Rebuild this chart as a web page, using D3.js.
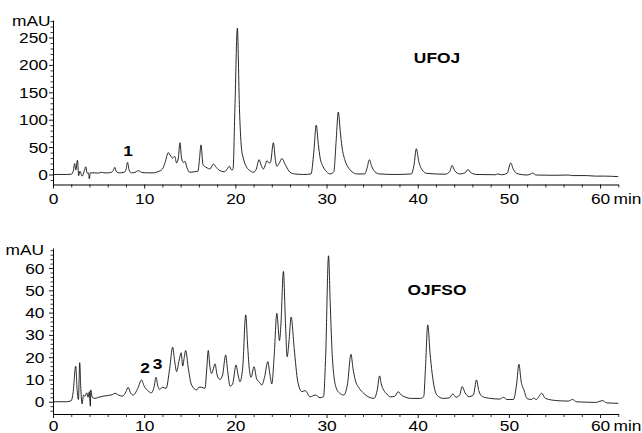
<!DOCTYPE html>
<html>
<head>
<meta charset="utf-8">
<script src="https://cdn.jsdelivr.net/npm/d3@7"></script>
<style>
  html, body { margin: 0; padding: 0; background: #fff; }
  svg { display: block; }
  text { font-family: "Liberation Sans", Arial, Helvetica, sans-serif; fill: #000; }
</style>
</head>
<body>
<svg id="chart" width="642" height="433"></svg>
<script>
// ---- Data ----
const ufojTime = [0,1.5,2.0,2.2,2.38,2.5,2.68,2.82,2.95,3.1,3.2,3.4,3.6,3.75,3.9,3.98,4.1,4.5,5.0,5.3,5.6,6.0,6.4,6.6,6.78,6.95,7.3,7.8,8.0,8.18,8.35,8.6,9.0,9.35,9.7,10.3,11.0,11.5,12.0,12.3,12.64,12.9,13.1,13.35,13.56,13.75,13.92,14.1,14.3,14.47,14.7,15.0,15.5,15.9,16.05,16.23,16.45,16.7,16.9,17.2,17.6,17.9,18.3,18.8,19.1,19.34,19.6,19.75,19.95,20.22,20.45,20.66,20.9,21.25,21.6,21.98,22.3,22.6,22.85,23.08,23.3,23.45,23.7,23.85,24.17,24.4,24.55,24.8,25.1,25.5,26.0,26.5,27.5,28.3,28.6,28.87,29.1,29.3,29.6,30.0,30.4,30.8,31.05,31.29,31.5,31.7,32.0,32.3,32.8,33.3,34.2,34.45,34.7,34.95,35.3,35.8,37.5,39.3,39.6,39.85,40.1,40.5,41.0,43.0,43.5,43.78,44.05,44.6,45.2,45.5,45.85,46.5,48.5,48.8,49.2,49.8,50.2,50.5,51.0,52.0,52.4,52.6,53.0,55.0,56.5,57.0,58.5,59.5,60.5,62.0];
const ufojValue = [0,0,0.5,5,20,8,26,-2,6,0,-3,5,14,2,3,-8,3,3,2.5,4,3,3,4,7,13,5,3,4,9,22,8,3,4,7,4,3,3,5,10,22,40,34,30,33,21,30,58,30,22,24,12,4,5,6,25,54,18,14,12,10,19,13,7,5,10,15,8,10,120,267,120,50,28,13,7,4,10,27,16,10,18,25,21,22,58,25,15,20,29,17,4,1,0,1,40,90,55,30,15,5,1,5,60,114,80,50,27,15,5,1,1,12,27,15,5,1,0,1,18,47,25,8,2,0.5,5,16.5,7,1,3,9,3,0,-0.5,1,-0.5,2,21,9,1,-1,1,2.5,-1,-1.5,-1,-2,-2,-3,-3,-4];

const ojfsoTime = [0,1.5,2.0,2.2,2.49,2.65,2.79,2.93,3.05,3.19,3.35,3.5,3.7,3.85,3.98,4.1,4.14,4.3,4.6,5.0,5.5,6.0,6.5,6.8,7.2,7.6,8.0,8.24,8.5,8.8,9.3,9.71,10.0,10.4,10.8,11.1,11.29,11.5,11.7,12.0,12.4,12.8,13.12,13.35,13.56,13.8,14.06,14.22,14.4,14.55,14.84,15.2,15.76,16.0,16.3,16.67,16.85,17.03,17.2,17.4,17.6,17.77,18.0,18.3,18.6,18.94,19.15,19.42,19.7,20.08,20.3,20.5,20.8,21.14,21.35,21.55,21.72,22.05,22.35,22.6,22.9,23.2,23.56,23.8,24.0,24.25,24.55,24.84,25.0,25.27,25.5,25.68,25.9,26.12,26.45,26.85,27.3,27.66,28.2,28.76,29.3,29.67,29.9,30.22,30.4,30.6,31.0,31.4,31.9,32.3,32.68,32.9,33.15,33.6,34.07,35.2,35.55,35.82,36.0,36.26,36.6,37.0,37.5,37.85,38.2,38.7,39.2,40.3,40.66,40.85,41.1,41.35,41.58,42.1,42.8,43.5,43.85,44.2,44.6,44.87,45.2,45.6,46.1,46.45,46.7,47.1,48.0,49.0,49.4,49.8,50.5,50.85,51.1,51.35,51.65,52.0,52.5,52.7,53.0,53.6,54.0,55.3,56.5,57.0,57.4,58.5,59.5,60.3,60.7,62.0];
const ojfsoValue = [0,0,0.5,4,16,5,1,17.5,6,-1,3,2.5,4,2,4.5,-2,5.3,2,1.5,2,2.5,2.8,3.2,3.8,3,2.5,4.5,6.5,4,3,6,9.8,7,5,4,7,11,7,5.5,6.5,6,15,24.5,18,13.5,18,22,16,20,23,15,7.5,5.3,6.5,6.5,6,14,23,16,12.7,15,17,12,10,12,21,14,7,8,16.5,12,9,15,39,25,14,11,15.7,10,9,7.5,11,18,12,8,20,39.7,27.4,35,58.5,35,20.2,28,38,24,9,4.5,5,2.2,3,1.8,2.3,20,65.5,45,23,7,4,3,8,21.3,15,9.8,6,3.8,1.5,5,11.6,8,5.3,3.5,2.2,2.5,4.5,3,2,1.5,1.5,2.3,15,34.5,22,12.8,3,1.5,1.8,3.5,2,3,6.8,4,2.3,3,9.8,5,2.3,1.5,1.2,2,1,1,8,16.8,9,5.3,1.4,1,1.7,1,3.8,1.5,0.5,0.3,1,0,-0.2,-0.3,0.5,-0.5,-0.7];

const xTickValues = [0, 10, 20, 30, 40, 50, 60];
const topYTicks = [0, 50, 100, 150, 200, 250];
const bottomYTicks = [0, 10, 20, 30, 40, 50, 60];
const sampleNames = ["UFOJ", "OJFSO"];
const peakLabels = ["1", "2", "3"];

// ---- Layout ----
const svg = d3.select("#chart");
const FONT = 15.5;
const STRETCH = 1.12;

// widen glyphs horizontally around each text's own x anchor
function stretch(sel) {
  sel.each(function () {
    const t = d3.select(this);
    const xv = +(t.attr("x") || 0);
    t.attr("transform", `translate(${xv * (1 - STRETCH)},0) scale(${STRETCH},1)`);
  });
}

const x = d3.scaleLinear().domain([0, 62]).range([53, 618.3]);

const yTop = d3.scaleLinear().domain([-18.3, 282]).range([184.5, 20]);
const yBot = d3.scaleLinear().domain([-5.5, 69]).range([414, 248]);

function drawPanel(yScale, yTicks, minorStep, time, values, axisY, yLabPad, labelBaseline, mauX, mauY) {
  const [d0, d1] = yScale.domain();
  const minor = d3.range(Math.ceil(d0 / minorStep) * minorStep, d1, minorStep)
    .filter(v => !yTicks.includes(v));
  const gyMinor = svg.append("g").attr("transform", `translate(${x(0)},0)`)
    .call(d3.axisLeft(yScale).tickValues(minor).tickSize(2.5).tickFormat("").tickSizeOuter(0));
  gyMinor.select(".domain").remove();
  gyMinor.selectAll("line").attr("stroke", "#000").attr("stroke-width", 0.8);

  const gy = svg.append("g").attr("transform", `translate(${x(0)},0)`)
    .call(d3.axisLeft(yScale).tickValues(yTicks).tickSize(4).tickPadding(yLabPad).tickSizeOuter(0));
  gy.select(".domain").attr("stroke", "#000").attr("stroke-width", 1);
  gy.selectAll("line").attr("stroke", "#000").attr("stroke-width", 0.9);
  gy.selectAll("text").style("font-size", FONT + "px").attr("font-family", null).call(stretch);

  const xMinor = d3.range(0, 63, 2).filter(v => !xTickValues.includes(v));
  const gxMinor = svg.append("g").attr("transform", `translate(0,${axisY})`)
    .call(d3.axisBottom(x).tickValues(xMinor).tickSize(3).tickFormat("").tickSizeOuter(0));
  gxMinor.select(".domain").remove();
  gxMinor.selectAll("line").attr("stroke", "#000").attr("stroke-width", 0.8);

  const gx = svg.append("g").attr("transform", `translate(0,${axisY})`)
    .call(d3.axisBottom(x).tickValues(xTickValues).tickSize(4).tickSizeOuter(0).tickFormat(d3.format("d")));
  gx.select(".domain").attr("stroke", "#000").attr("stroke-width", 1.2);
  gx.selectAll("line").attr("stroke", "#000").attr("stroke-width", 0.9);
  gx.selectAll("text").style("font-size", FONT + "px").attr("font-family", null)
    .attr("dy", null).attr("y", labelBaseline - axisY).call(stretch);
  svg.append("text").attr("x", x(60) + 13.5).attr("y", labelBaseline)
    .style("font-size", FONT + "px").text("min").call(stretch);

  svg.append("text").attr("x", mauX).attr("y", mauY).attr("text-anchor", "end")
    .style("font-size", FONT + "px").text("mAU").call(stretch);

  const pts = time.map((t, i) => [t, values[i]]);
  const line = d3.line().x(d => x(d[0])).y(d => yScale(d[1])).curve(d3.curveMonotoneX);
  svg.append("path").datum(pts).attr("d", line)
    .attr("fill", "none").attr("stroke", "#111").attr("stroke-width", 0.9)
    .attr("stroke-linejoin", "round");
}

drawPanel(yTop, topYTicks, 10, ufojTime, ufojValue, 184.5, 1, 204.5, 50.5, 26.5);
drawPanel(yBot, bottomYTicks, 2, ojfsoTime, ojfsoValue, 414, 4.5, 431, 44, 255);

function bold(xp, yp, txt) {
  svg.append("text").attr("x", xp).attr("y", yp).attr("text-anchor", "middle")
    .style("font-size", "15.5px").style("font-weight", "bold").text(txt).call(stretch);
}
bold(437, 63, sampleNames[0]);
bold(437, 295, sampleNames[1]);
bold(128, 156, peakLabels[0]);
bold(145, 373, peakLabels[1]);
bold(157.7, 369, peakLabels[2]);
</script>
</body>
</html>
